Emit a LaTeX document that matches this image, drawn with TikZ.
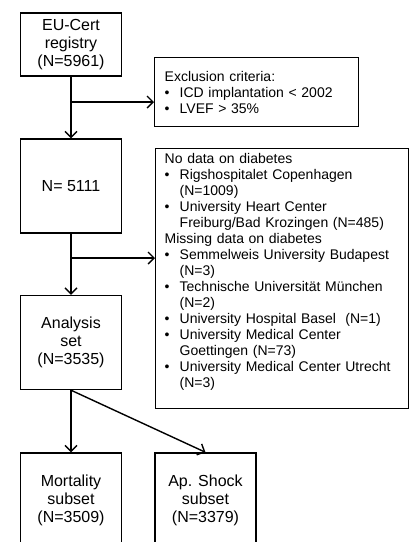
\documentclass[tikz,border=0pt]{standalone}
\usepackage{fontspec}
\setmainfont{Liberation Sans}
\usepackage{tikz}
\usetikzlibrary{arrows.meta}
\newcommand{\bul}{\makebox[15pt][l]{\textbullet}}
\newcommand{\ind}{\hspace*{15pt}}
\newcommand{\listfont}{\fontsize{14}{16}\selectfont}
\tikzset{
	main node/.style={rectangle,draw,line width=1.4pt,minimum width=101pt,minimum height=94pt,
		align=center,font=\fontsize{16}{18}\selectfont},
	list node/.style={rectangle,draw,line width=1.4pt,inner xsep=10pt,anchor=north west,
		align=left,font=\listfont}
}

\begin{document}
\begin{tikzpicture}[x=1pt,y=-1pt,->,>={Straight Barb[length=6pt,width=12pt]},line width=1.4pt]
	\useasboundingbox (0,0) rectangle (409,542);
	% left column
	\node [main node,minimum height=63pt] (reg) at (71,44.5) {EU-Cert\\registry\\(N=5961)};
	\node [main node] (all) at (71,186) {N= 5111};
	\node [main node] (ana) at (71,342.5) {Analysis\\set\\(N=3535)};
	\node [main node] (mort) at (71,500) {Mortality\\subset\\(N=3509)};
	\node [main node] (shock) at (205.5,500) {Ap. Shock\\subset\\(N=3379)};
	% exclusion boxes
	\node [list node,text width=184pt,minimum height=69pt] (excl) at (154,57)
		{Exclusion criteria:\\
		\bul ICD implantation < 2002\\
		\bul LVEF > 35\%};
	\node [list node,inner xsep=9pt,text width=235pt,minimum height=260pt] (miss) at (155,148)
		{No data on diabetes\\
		\bul Rigshospitalet Copenhagen\\
		\ind (N=1009)\\
		\bul University Heart Center\\
		\ind Freiburg/Bad Krozingen (N=485)\\
		Missing data on diabetes\\
		\bul Semmelweis University Budapest\\
		\ind (N=3)\\
		\bul Technische Universität München\\
		\ind (N=2)\\
		\bul University Hospital Basel~ (N=1)\\
		\bul University Medical Center\\
		\ind Goettingen (N=73)\\
		\bul University Medical Center Utrecht\\
		\ind (N=3)\rule[-16pt]{0pt}{16pt}};
	% connectors
	\coordinate (b1) at (71,102);
	\coordinate (b2) at (71,258);
	\draw (reg) -- (all);
	\draw (b1) -- (b1 -| excl.west);
	\draw (all) -- (ana);
	\draw (b2) -- (b2 -| miss.west);
	\draw (ana) -- (mort);
	\draw (ana.south) -- (shock.north);
\end{tikzpicture}
\end{document}
